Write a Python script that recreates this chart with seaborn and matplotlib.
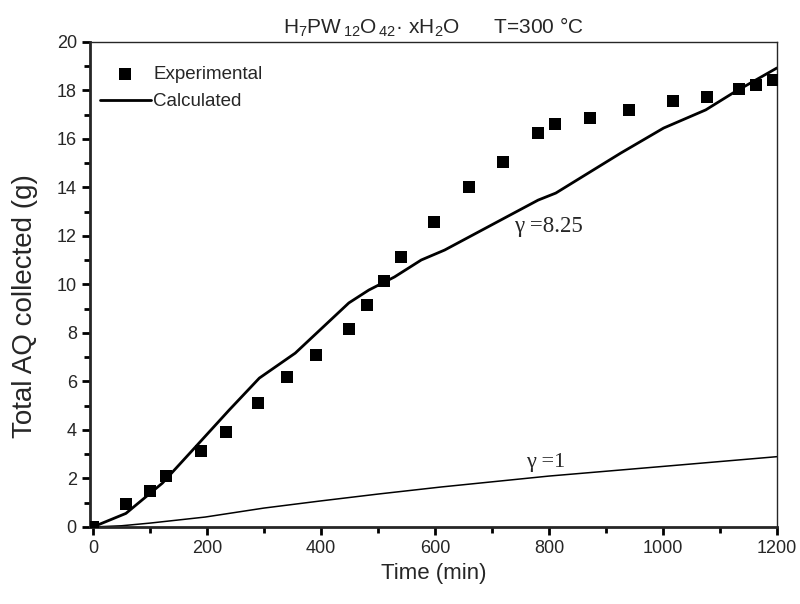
import numpy as np
import pandas as pd
import matplotlib
matplotlib.use("Agg")
import matplotlib.pyplot as plt
import seaborn as sns

# experimental points
exp_time = [0, 59, 100, 129, 189, 234, 290, 341, 391, 449, 480, 510, 540, 599,
            660, 720, 781, 810, 872, 941, 1017, 1078, 1134, 1163, 1193]
exp_aq = [0.0, 0.95, 1.48, 2.1, 3.13, 3.92, 5.11, 6.19, 7.09, 8.16, 9.15, 10.14,
          11.13, 12.58, 14.0, 15.05, 16.25, 16.6, 16.87, 17.2, 17.57, 17.73,
          18.06, 18.23, 18.43]

# calculated, gamma = 8.25
calc_time = [0, 58, 122, 180, 239, 292, 355, 449, 484, 529, 576, 617, 722, 781,
             812, 926, 1001, 1075, 1123, 1200]
calc_aq = [0.0, 0.56, 1.81, 3.3, 4.82, 6.14, 7.17, 9.24, 9.77, 10.31, 11.01,
           11.42, 12.74, 13.48, 13.77, 15.42, 16.45, 17.2, 17.9, 18.93]

# calculated, gamma = 1
g1_time = [0, 50, 100, 197, 300, 398, 501, 611, 800, 1001, 1200]
g1_aq = [0.0, 0.05, 0.16, 0.41, 0.78, 1.07, 1.36, 1.65, 2.1, 2.5, 2.9]

sns.set_style("ticks")
plt.rcParams["font.family"] = ["Liberation Sans", "DejaVu Sans"]
plt.rcParams["mathtext.default"] = "regular"

fig = plt.figure(figsize=(8, 6.04), dpi=100)
ax = fig.add_axes([0.1125, 0.1275, 0.8588, 0.803])

df_exp = pd.DataFrame({"t": exp_time, "aq": exp_aq})
df_calc = pd.DataFrame({"t": calc_time, "aq": calc_aq})
df_g1 = pd.DataFrame({"t": g1_time, "aq": g1_aq})

sns.scatterplot(data=df_exp, x="t", y="aq", marker="s", s=80, color="black",
                edgecolor="black", linewidth=0, ax=ax, label="Experimental", zorder=3)
sns.lineplot(data=df_calc, x="t", y="aq", color="black", linewidth=2, ax=ax,
             label="Calculated")
sns.lineplot(data=df_g1, x="t", y="aq", color="black", linewidth=1.1, ax=ax)

ax.set_xlim(-5, 1200)
ax.set_ylim(0, 20)
ax.set_xticks(np.arange(0, 1201, 200))
ax.set_xticks(np.arange(0, 1201, 100), minor=True)
ax.set_yticks(np.arange(0, 21, 2))
ax.set_yticks(np.arange(0, 21, 1), minor=True)
ax.tick_params(which="major", length=6, width=2, labelsize=13, color="black")
ax.tick_params(which="minor", length=4, width=2, color="black")
for side in ["left", "bottom"]:
    ax.spines[side].set_linewidth(2)
for side in ["top", "right"]:
    ax.spines[side].set_linewidth(1)
    ax.spines[side].set_visible(True)

ax.set_xlabel("Time (min)", fontsize=16)
ax.set_ylabel("Total AQ collected (g)", fontsize=20)
ax.yaxis.set_label_coords(-0.076, 0.456)
ax.set_title("H$_7$PW$_{\\,12}$O$_{\\,42}$· xH$_2$O      T=300 °C", fontsize=15, pad=6)

serif = ["Liberation Serif", "DejaVu Serif"]
ax.text(739, 12.16, "γ =8.25", family=serif, fontsize=16.5, va="baseline")
ax.text(760, 2.47, "γ =1", family=serif, fontsize=16, va="baseline")

ax.legend(loc="upper left", bbox_to_anchor=(0.0146, 0.951), frameon=False,
          fontsize=13.5, handlelength=2.7, handletextpad=0.15, labelspacing=0.55,
          borderaxespad=0, borderpad=0)

fig.savefig("out.png", dpi=100)
